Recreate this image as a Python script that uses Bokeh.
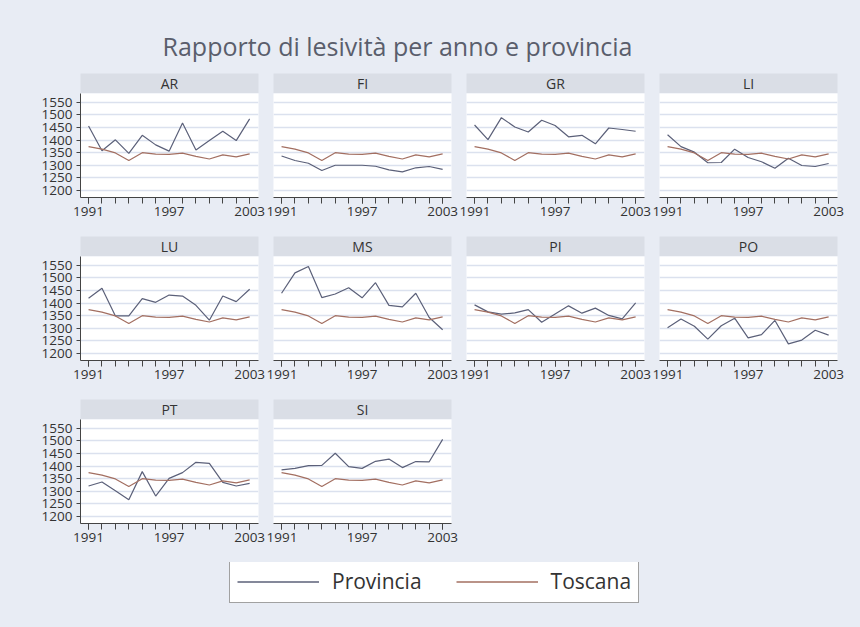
from bokeh.plotting import figure
from bokeh.models import FixedTicker, Grid, LinearAxis, Label, Range1d, Legend, LegendItem
from bokeh.layouts import column, row
from bokeh.embed import file_html
from bokeh.resources import INLINE

# ---------------- data ----------------
years = [1991, 1992, 1993, 1994, 1995, 1996, 1997, 1998, 1999, 2000, 2001, 2002, 2003]
x_tick_labels = [1991, 1997, 2003]
y_ticks = [1200, 1250, 1300, 1350, 1400, 1450, 1500, 1550]

toscana = [1374, 1364, 1349, 1319, 1350, 1344, 1343, 1348, 1335, 1325, 1341, 1333, 1345]

ar = [1456, 1358, 1401, 1347, 1419, 1381, 1356, 1468, 1361, 1398, 1435, 1398, 1484]
fi = [1337, 1319, 1308, 1279, 1300, 1300, 1300, 1296, 1282, 1274, 1290, 1295, 1284]
gr = [1460, 1402, 1489, 1452, 1432, 1479, 1458, 1413, 1419, 1385, 1448, 1442, 1435]
li = [1421, 1374, 1352, 1310, 1311, 1364, 1331, 1314, 1288, 1328, 1299, 1295, 1307]
lu = [1419, 1459, 1349, 1349, 1418, 1403, 1432, 1428, 1391, 1332, 1428, 1406, 1455]
ms = [1439, 1520, 1545, 1422, 1436, 1461, 1421, 1481, 1391, 1385, 1439, 1343, 1294]
pi = [1393, 1365, 1356, 1361, 1374, 1324, 1357, 1389, 1360, 1380, 1351, 1337, 1401]
po = [1302, 1337, 1308, 1257, 1310, 1340, 1262, 1275, 1331, 1238, 1253, 1292, 1273]
pt = [1321, 1337, 1302, 1266, 1378, 1281, 1351, 1374, 1415, 1411, 1335, 1321, 1331]
si = [1385, 1391, 1402, 1403, 1451, 1398, 1391, 1419, 1428, 1394, 1418, 1417, 1506]

province_names = ["AR", "FI", "GR", "LI", "LU", "MS", "PI", "PO", "PT", "SI"]
province_values = [ar, fi, gr, li, lu, ms, pi, po, pt, si]

title_text = "Rapporto di lesività per anno e provincia"
legend_labels = ["Provincia", "Toscana"]

# ---------------- style ----------------
BG = "#e8ecf4"
STRIP = "#dadee6"
C_PROV = "#5b6079"
C_TOSC = "#a36f61"
FONT = "Open Sans"
FW, FH = 178, 104
STRIP_H = 20
BOTTOM = 39
NCOL = 4
TOTAL_W = 852


def strip_fig(name, left):
    p = figure(frame_width=FW, frame_height=STRIP_H, min_border_left=left, min_border_right=8,
               min_border_top=0, min_border_bottom=0, x_range=Range1d(0, 1), y_range=Range1d(0, 1),
               x_axis_type=None, y_axis_type=None, toolbar_location=None, output_backend="svg",
               background_fill_color=STRIP, border_fill_color=BG, outline_line_color=None)
    p.add_layout(Label(x=0.5, y=0.5, text=name, text_align="center", text_baseline="middle",
                       text_font=FONT, text_font_size="14px", text_color="#333333"))
    return p


def panel_fig(vals, left, with_y):
    p = figure(frame_width=FW, frame_height=FH, min_border_left=left, min_border_right=8,
               min_border_top=0, min_border_bottom=BOTTOM,
               x_range=Range1d(1990.4, 2003.66), y_range=Range1d(1172, 1585),
               x_axis_type=None, y_axis_type=None, toolbar_location=None, output_backend="svg",
               background_fill_color="white", border_fill_color=BG, outline_line_color=None)
    p.add_layout(Grid(dimension=1, ticker=FixedTicker(ticks=y_ticks),
                      grid_line_color="#dbe1ee", grid_line_width=1.5))
    xaxis = LinearAxis(ticker=FixedTicker(ticks=x_tick_labels, minor_ticks=years),
                       major_tick_in=0, major_tick_out=6, minor_tick_in=0, minor_tick_out=6,
                       axis_line_color="#444444", major_tick_line_color="#444444",
                       minor_tick_line_color="#444444",
                       major_label_text_font=FONT, major_label_text_font_size="13.5px",
                       major_label_text_color="#333333", major_label_standoff=3)
    p.add_layout(xaxis, "below")
    if with_y:
        yaxis = LinearAxis(ticker=FixedTicker(ticks=y_ticks),
                           major_tick_in=0, major_tick_out=4, minor_tick_in=0, minor_tick_out=0,
                           axis_line_color="#444444", major_tick_line_color="#444444",
                           major_label_text_font=FONT, major_label_text_font_size="13.5px",
                           major_label_text_color="#333333", major_label_standoff=4)
        p.add_layout(yaxis, "left")
    p.line(years, vals, line_color=C_PROV, line_width=1.2)
    p.line(years, toscana, line_color=C_TOSC, line_width=1.2)
    return p


# title
TITLE_H = 73
tp = figure(frame_width=TOTAL_W, frame_height=TITLE_H, min_border=0, x_range=Range1d(0, TOTAL_W),
            y_range=Range1d(TITLE_H, 0), x_axis_type=None, y_axis_type=None, toolbar_location=None,
            output_backend="svg", background_fill_color=BG, border_fill_color=BG, outline_line_color=None)
tp.add_layout(Label(x=397, y=45, text=title_text, text_align="center", text_baseline="middle",
                    text_font=FONT, text_font_size="25px", text_color="#5a5e6c"))

rows = []
for r in range(0, len(province_names), NCOL):
    cells = []
    for c, (name, vals) in enumerate(zip(province_names[r:r + NCOL], province_values[r:r + NCOL])):
        left = 80 if c == 0 else 7
        cells.append(column(strip_fig(name, left), panel_fig(vals, left, c == 0), spacing=0))
    rows.append(row(*cells, spacing=0))

# legend
LEG_H = 60
lp = figure(frame_width=TOTAL_W, frame_height=LEG_H, min_border=0, x_range=Range1d(0, 1), y_range=Range1d(0, 1),
            x_axis_type=None, y_axis_type=None, toolbar_location=None, output_backend="svg",
            background_fill_color=BG, border_fill_color=BG, outline_line_color=None)
# legend keys: same series, lying outside this figure's visible range
r1 = lp.line(years, ar, line_color=C_PROV, line_width=1.6)
r2 = lp.line(years, toscana, line_color=C_TOSC, line_width=1.6)
legend = Legend(items=[LegendItem(label=legend_labels[0], renderers=[r1]),
                       LegendItem(label=legend_labels[1], renderers=[r2])],
                orientation="horizontal", location=(229, 19), glyph_width=82, glyph_height=21,
                label_height=21, label_standoff=13, spacing=34, padding=7, margin=0,
                label_text_font=FONT, label_text_font_size="21px", label_text_color="#333333",
                border_line_color="#444444", border_line_width=1,
                background_fill_color="white", background_fill_alpha=1.0)
lp.add_layout(legend, "center")

layout = column(tp, *rows, lp, spacing=0)

html = file_html(layout, INLINE)
style = "<style>html, body { background: %s !important; }</style>" % BG
html = html.replace("</head>", style + "\n</head>", 1)
open("out.html", "w").write(html)
